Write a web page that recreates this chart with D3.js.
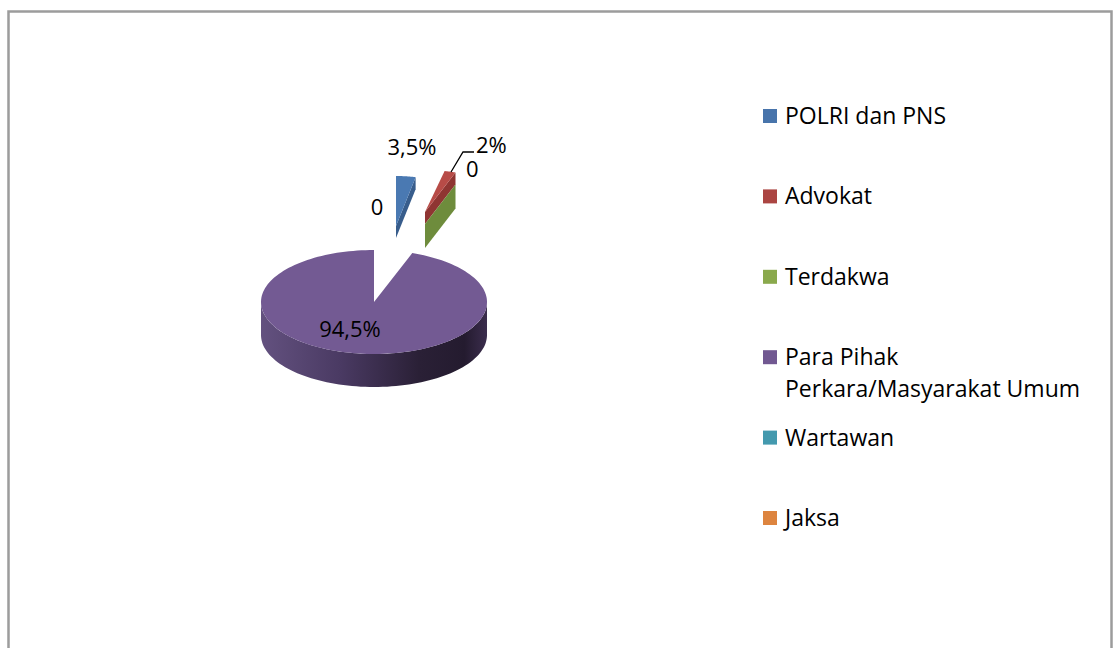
<html>
<head>
<meta charset="utf-8">
<script src="https://cdn.jsdelivr.net/npm/d3@7"></script>
<style>
  body { margin: 0; background: #fff; }
  text { font-family: 'Open Sans', Lato, sans-serif; fill: #000; }
</style>
</head>
<body>
<div id="chart"></div>
<script>
// data
const categories = ["POLRI dan PNS", "Advokat", "Terdakwa", "Para Pihak Perkara/Masyarakat Umum", "Wartawan", "Jaksa"]
const values = [3.5, 2, 0, 94.5, 0, 0]
const dataLabels = ["3,5%", "2%", "0", "94,5%", "", "0"]
const legendLines = [["POLRI dan PNS"], ["Advokat"], ["Terdakwa"], ["Para Pihak", "Perkara/Masyarakat Umum"], ["Wartawan"], ["Jaksa"]]

const W = 1119, H = 648
const colors = ["#4874ab", "#ab4542", "#8aa94c", "#715891", "#4399ae", "#dd843f"]
const topColors = ["#4a79b2", "#b74b47", "#7d9c46", "#735a93", "#4399ae", "#dd843f"]
const wallColors = ["#385d8c", "#8f3532", "#6e8c3c", "#3d2f52", "#357f92", "#b86a30"]

// main pie
const cx = 374, cy = 302, rx = 113, ry = 52, depth = 33

// exploded slices (tip x, tip y, rx, ry, depth) ; null = not exploded
const explode = [
  { x: 396, y: 226, rx: 90, ry: 50, depth: 12 },
  { x: 425, y: 212, rx: 90, ry: 42, depth: 12 },
  { x: 425, y: 224, rx: 90, ry: 42, depth: 24 },
  null, null, null
]
// label positions
const labelPos = [
  { x: 412, y: 155, anchor: "middle" },
  { x: 476, y: 153, anchor: "start" },
  { x: 466, y: 177, anchor: "start" },
  { x: 350, y: 337, anchor: "middle" },
  null,
  { x: 377, y: 215, anchor: "middle" }
]

const svg = d3.select("#chart").append("svg")
  .attr("width", W).attr("height", H)

// border
svg.append("rect")
  .attr("x", 8.5).attr("y", 11.5)
  .attr("width", 1103).attr("height", 700)
  .attr("fill", "none").attr("stroke", "#9c9c9c").attr("stroke-width", 2.5)

const defs = svg.append("defs")
const grad = defs.append("linearGradient").attr("id", "sideGrad")
  .attr("gradientUnits", "userSpaceOnUse")
  .attr("x1", cx - rx).attr("x2", cx + rx).attr("y1", 0).attr("y2", 0)
grad.selectAll("stop").data([
  [0, "#63517f"], [0.35, "#4a3a63"], [0.7, "#2a2036"], [0.9, "#241b2f"], [1, "#3b2d4d"]
]).join("stop").attr("offset", d => d[0]).attr("stop-color", d => d[1])

const pie = d3.pie().sort(null).value(d => d)
const arcs = pie(values)

function pt(a, o, r) {
  return [o.x + o.rx * r * Math.sin(a), o.y - o.ry * r * Math.cos(a)]
}
function arcPts(a0, a1, o, n) {
  const pts = []
  for (let i = 0; i <= n; i++) pts.push(pt(a0 + (a1 - a0) * i / n, o, 1))
  return pts
}
const line = d3.line()

const g = svg.append("g")

// main (non exploded) slices
arcs.forEach((d, i) => {
  if (explode[i] || d.endAngle - d.startAngle <= 0) return
  const o = { x: cx, y: cy, rx: rx, ry: ry }
  // front rim side
  const a0 = Math.max(d.startAngle, Math.PI / 2), a1 = Math.min(d.endAngle, Math.PI * 1.5)
  if (a1 > a0) {
    const topArc = arcPts(a0, a1, o, 80)
    const bot = topArc.map(p => [p[0], p[1] + depth]).reverse()
    g.append("path").attr("d", line(topArc.concat(bot)) + "Z").attr("fill", "url(#sideGrad)")
  }
  const face = [[cx, cy]].concat(arcPts(d.startAngle, d.endAngle, o, 160))
  g.append("path").attr("d", line(face) + "Z").attr("fill", topColors[i])
})

// exploded slices
arcs.forEach((d, i) => {
  const o = explode[i]
  if (!o) return
  const tip = [o.x, o.y]
  const rim = pt(d.endAngle, o, 1)
  const wall = [tip, rim, [rim[0], rim[1] + o.depth], [tip[0], tip[1] + o.depth]]
  g.append("path").attr("d", line(wall) + "Z").attr("fill", wallColors[i])
  if (d.endAngle - d.startAngle > 0) {
    const face = [tip].concat(arcPts(d.startAngle, d.endAngle, o, 20))
    g.append("path").attr("d", line(face) + "Z").attr("fill", topColors[i])
  }
})

// data labels
const lbl = svg.append("g")
dataLabels.forEach((t, i) => {
  const p = labelPos[i]
  if (!p || t === "") return
  lbl.append("text").attr("x", p.x).attr("y", p.y)
    .attr("text-anchor", p.anchor).attr("font-size", 22).text(t)
})
// leader line for small slice label
svg.append("path")
  .attr("d", line([[451, 172], [463, 152], [474, 152]]))
  .attr("fill", "none").attr("stroke", "#000").attr("stroke-width", 1.3)

// legend
const ly = d3.scaleLinear().domain([0, 1]).range([116, 196.4])
const leg = svg.append("g").selectAll("g").data(categories).join("g")
  .attr("transform", (d, i) => `translate(763,${ly(i)})`)
leg.append("rect").attr("x", 0).attr("y", -7).attr("width", 14).attr("height", 14)
  .attr("fill", (d, i) => colors[i])
leg.append("text").attr("x", 22).attr("font-size", 23)
  .selectAll("tspan").data((d, i) => legendLines[i]).join("tspan")
  .attr("x", 22).attr("dy", (d, j) => j == 0 ? "0.35em" : "32px")
  .text(d => d)
</script>
</body>
</html>
